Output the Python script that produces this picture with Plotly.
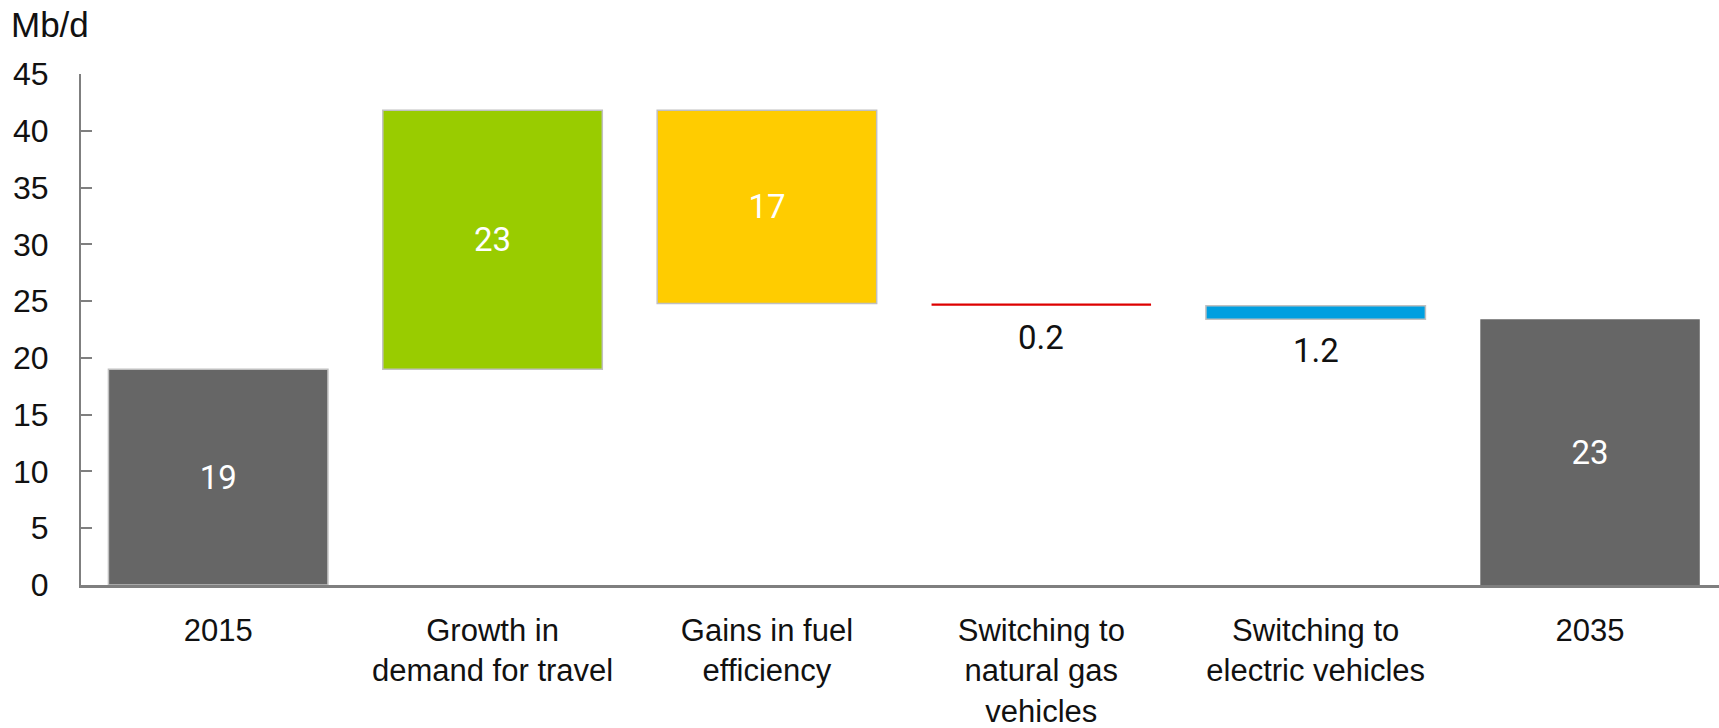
import plotly.graph_objects as go

categories = ["2015", "Growth in<br>demand for travel", "Gains in fuel<br>efficiency",
              "Switching to<br>natural gas<br>vehicles", "Switching to<br>electric vehicles", "2035"]
start_value = 19.0
changes = [22.8, -17.0, -0.2, -1.2]
end_value = 23.4
value_labels = ["19", "23", "17", "0.2", "1.2", "23"]
y_ticks = [0, 5, 10, 15, 20, 25, 30, 35, 40, 45]

colors = ["#666666", "#99CC00", "#FFCC00", "#DD0000", "#009FE0", "#666666"]
line_widths = [1.5, 1.5, 1.5, 0, 1.5, 0]
label_inside = [True, True, True, False, False, True]

# waterfall geometry from data
bases = [0.0]
heights = [start_value]
running = start_value
for c in changes:
    bases.append(running)
    heights.append(c)
    running += c
bases.append(0.0)
heights.append(end_value)

tick_font = dict(family="Liberation Sans, Arial, sans-serif", size=32, color="#111111")
cat_font = dict(family="Liberation Sans, Arial, sans-serif", size=31, color="#111111")
unit_font = dict(family="Liberation Sans, Arial, sans-serif", size=35, color="#111111")
val_font_family = "Roboto, Liberation Sans, sans-serif"

inside_text = [t if ins else "" for t, ins in zip(value_labels, label_inside)]

fig = go.Figure()
fig.add_trace(go.Bar(
    x=categories, y=heights, base=bases,
    marker=dict(color=colors, line=dict(color="#C0C0C0", width=line_widths)),
    width=0.8,
    text=inside_text, textposition="inside", insidetextanchor="middle",
    insidetextfont=dict(family=val_font_family, size=33, color="white"),
    textangle=0,
    hoverinfo="skip", showlegend=False,
))

annotations = [dict(text="Mb/d", xref="paper", yref="paper", x=0, y=1,
                    xanchor="left", yanchor="middle", xshift=-72, yshift=50,
                    showarrow=False, font=unit_font)]
for cat, b, h, t, ins in zip(categories, bases, heights, value_labels, label_inside):
    if not ins:
        annotations.append(dict(text=t, x=cat, y=min(b, b + h), xref="x", yref="y",
                                xanchor="center", yanchor="top", yshift=-10,
                                showarrow=False,
                                font=dict(family=val_font_family, size=33, color="#111111")))

fig.update_layout(
    width=1719, height=728,
    margin=dict(l=81, r=0, t=74, b=143, autoexpand=False),
    plot_bgcolor="white", paper_bgcolor="white",
    xaxis=dict(type="category", range=[-0.5, 5.47], showgrid=False, automargin=False,
               showline=True, linecolor="#7F7F7F", linewidth=2.5,
               ticks="", tickfont=cat_font, ticklabelstandoff=16),
    yaxis=dict(range=[0, 45], tickvals=y_ticks, showgrid=False, zeroline=False,
               automargin=False,
               showline=True, linecolor="#7F7F7F", linewidth=2,
               ticks="inside", ticklen=11, tickwidth=2, tickcolor="#7F7F7F",
               tickfont=tick_font, ticklabelstandoff=24),
    annotations=annotations,
)

fig.write_html("out.html", config={"displayModeBar": False},
               post_script="document.body.style.margin='0';")
